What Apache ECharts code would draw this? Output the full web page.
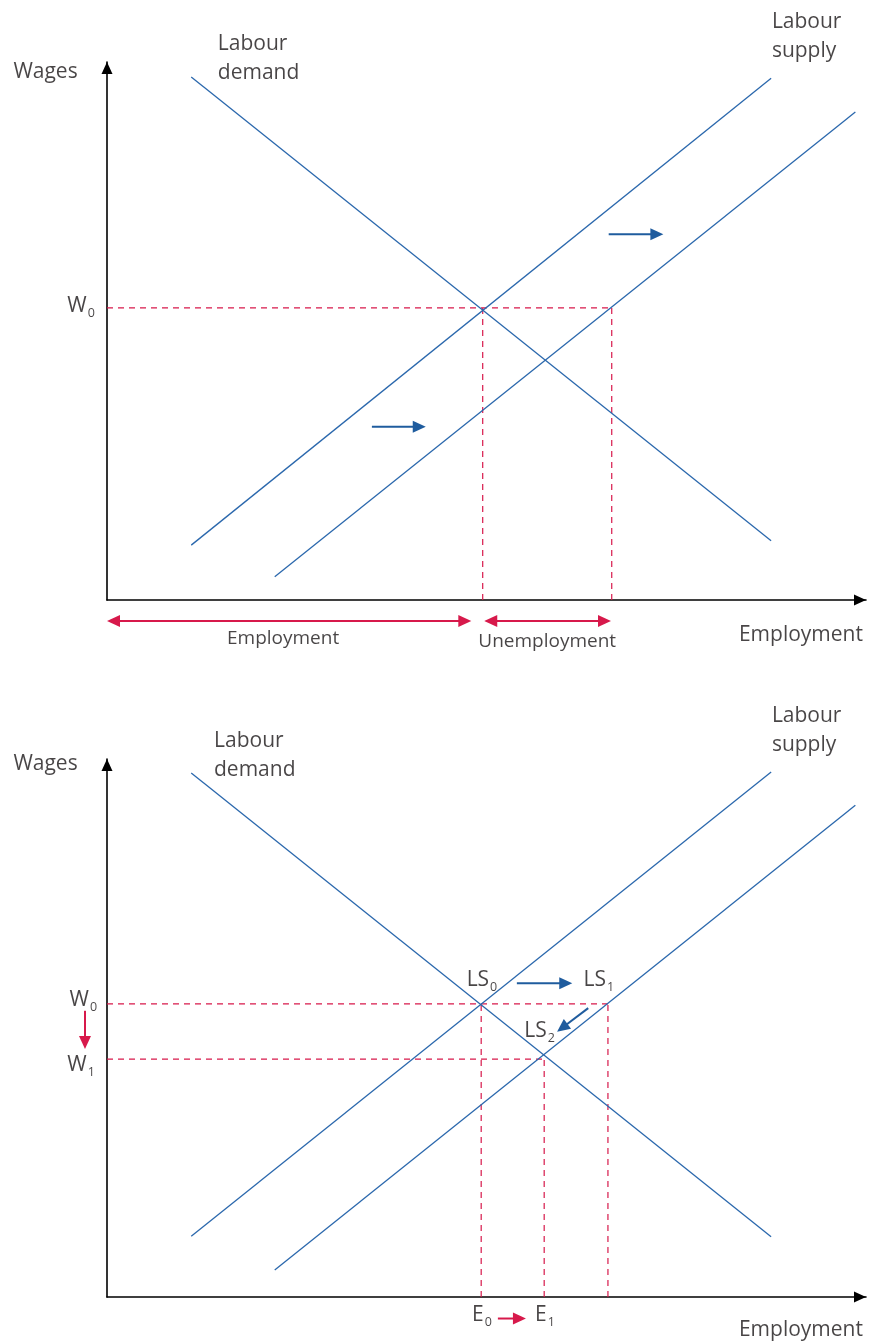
<!DOCTYPE html>
<html>
<head>
<meta charset="UTF-8">
<title>Labour market</title>
<script src="https://cdn.jsdelivr.net/npm/echarts@6/dist/echarts.min.js"></script>
<style>html,body{margin:0;padding:0;background:#fff;}</style>
</head>
<body>
	<div id="main" style="width:873px;height:1342px;"></div>
<script type="text/javascript">
// units: employment 0-100 across, wages 0-100 up (both panels)

// top panel
var demandTop = [[11.1, 97.2], [87.5, 11.0]];
var supplyTop0 = [[11.1, 10.2], [87.5, 97.0]];
var supplyTop1 = [[22.1, 4.3], [98.6, 90.7]];
var wageTop = 54.3;
var empTop = [49.5, 66.5];          // employed, labour force
var shiftTop = [[34.9, 32.2, 42.0, 32.2], [66.1, 68.0, 73.3, 68.0]];
var spanTop = [[0, -3.9, 48.0, -3.9, 1], [49.7, -3.9, 66.4, -3.9, 1]];

// bottom panel
var demandBot = [[11.1, 97.4], [87.5, 11.2]];
var supplyBot0 = [[11.1, 11.3], [87.5, 97.6]];
var supplyBot1 = [[22.1, 5.0], [98.6, 91.4]];
var wagesBot = [54.5, 44.2];        // W0, W1
var empBot = [49.3, 57.6, 66.0];    // E0, E1, LS1
var shiftBot = [[54.0, 58.3, 61.3, 58.3], [63.4, 53.7, 59.3, 49.3]];
var moveBot = [[-2.9, 53.2, -2.9, 46.1], [51.5, -4.0, 55.2, -4.0]];

var font = '"Open Sans", "Noto Sans", sans-serif';
var ink = '#1a1718';
var blue = '#2b68ad';
var red = '#d7194b';

var rich = {
	m: {fontSize: 21, lineHeight: 28, color: ink, fontFamily: font},
	s: {fontSize: 12.5, lineHeight: 12, verticalAlign: 'bottom', color: ink, fontFamily: font, padding: [0, 0, 0, 1]}
};
function sub(a, b) { return '{m|' + a + '}{s|' + b + '}'; }

function note(x, y, text, align, size) {
	return {value: [x, y], label: {formatter: text, align: align || 'center', fontSize: size || 21}};
}

function axisX(g) {
	return {
		type: 'value', gridIndex: g, min: 0, max: 100,
		axisLine: {show: true, onZero: false, symbol: ['none', 'triangle'], symbolSize: [11, 12], symbolOffset: [0, -6],
			lineStyle: {color: '#000', width: 1.6}},
		axisTick: {show: false}, axisLabel: {show: false}, splitLine: {show: false}
	};
}
function axisY(g) {
	return axisX(g);
}

function seg(g, pts, color, dashed) {
	return {
		type: 'line', xAxisIndex: g, yAxisIndex: g, data: pts, symbol: 'none', silent: true, clip: false,
		lineStyle: {color: color, width: dashed ? 1.2 : 1.3, type: dashed ? [6, 5] : 'solid'}
	};
}

// arrow from (v0,v1) to tip (v2,v3); v4 = 1 means a head at both ends
function drawArrow(params, api) {
	var a = api.coord([api.value(0), api.value(1)]);
	var b = api.coord([api.value(2), api.value(3)]);
	var both = api.value(4) === 1;
	var color = api.visual('color');
	var dx = b[0] - a[0], dy = b[1] - a[1];
	var len = Math.sqrt(dx * dx + dy * dy);
	var ux = dx / len, uy = dy / len;
	var hl = 13, hw = 6;
	function head(p, sx, sy) {
		var bx = p[0] - sx * hl, by = p[1] - sy * hl;
		return {type: 'polygon', shape: {points: [[p[0], p[1]], [bx - sy * hw, by + sx * hw], [bx + sy * hw, by - sx * hw]]},
			style: {fill: color}};
	}
	var s = both ? [a[0] + ux * 9, a[1] + uy * 9] : a;
	var kids = [{type: 'line', shape: {x1: s[0], y1: s[1], x2: b[0] - ux * 9, y2: b[1] - uy * 9},
		style: {stroke: color, lineWidth: 2}}];
	kids.push(head(b, ux, uy));
	if (both) kids.push(head(a, -ux, -uy));
	return {type: 'group', children: kids};
}
function arrows(g, data, color) {
	return {type: 'custom', xAxisIndex: g, yAxisIndex: g, renderItem: drawArrow, data: data,
		itemStyle: {color: color}, clip: false, silent: true};
}

function notes(g, data) {
	return {
		type: 'scatter', xAxisIndex: g, yAxisIndex: g, clip: false, silent: true, symbolSize: 1,
		itemStyle: {color: 'transparent'},
		label: {show: true, position: 'inside', verticalAlign: 'middle', color: ink, fontFamily: font,
			fontSize: 21, lineHeight: 29, rich: rich},
		data: data
	};
}

var chart = echarts.init(document.getElementById('main'));
var option = {
	animation: false,
	backgroundColor: '#fff',
	grid: [
		{left: 107, top: 62, width: 759, height: 538},
		{left: 107, top: 759, width: 759, height: 538}
	],
	xAxis: [axisX(0), axisX(1)],
	yAxis: [axisY(0), axisY(1)],
	series: [
		// top
		seg(0, [[0, wageTop], [empTop[1], wageTop]], red, true),
		seg(0, [[empTop[0], 0], [empTop[0], wageTop]], red, true),
		seg(0, [[empTop[1], 0], [empTop[1], wageTop]], red, true),
		seg(0, demandTop, blue),
		seg(0, supplyTop0, blue),
		seg(0, supplyTop1, blue),
		arrows(0, shiftTop, '#1f5c9e'),
		arrows(0, spanTop, red),
		notes(0, [
			note(-8.1, 98.1, 'Wages'),
			note(14.6, 100.7, 'Labour\ndemand', 'left'),
			note(87.6, 104.8, 'Labour\nsupply', 'left'),
			note(-1.6, 54.6, sub('W', '0'), 'right'),
			note(23.2, -7.1, 'Employment', 'center', 19),
			note(58.0, -7.8, 'Unemployment', 'center', 19),
			note(99.6, -6.5, 'Employment', 'right')
		]),
		// bottom
		seg(1, [[0, wagesBot[0]], [empBot[2], wagesBot[0]]], red, true),
		seg(1, [[0, wagesBot[1]], [empBot[1], wagesBot[1]]], red, true),
		seg(1, [[empBot[0], 0], [empBot[0], wagesBot[0]]], red, true),
		seg(1, [[empBot[1], 0], [empBot[1], wagesBot[1]]], red, true),
		seg(1, [[empBot[2], 0], [empBot[2], wagesBot[0]]], red, true),
		seg(1, demandBot, blue),
		seg(1, supplyBot0, blue),
		seg(1, supplyBot1, blue),
		arrows(1, shiftBot, '#1f5c9e'),
		arrows(1, moveBot, red),
		notes(1, [
			note(-8.1, 99.1, 'Wages'),
			note(14.1, 100.7, 'Labour\ndemand', 'left'),
			note(87.6, 105.3, 'Labour\nsupply', 'left'),
			note(-1.3, 55.2, sub('W', '0'), 'right'),
			note(-1.6, 43.1, sub('W', '1'), 'right'),
			note(49.4, 58.9, sub('LS', '0')),
			note(64.8, 58.9, sub('LS', '1')),
			note(57.0, 49.4, sub('LS', '2')),
			note(49.4, -3.4, sub('E', '0')),
			note(57.7, -3.4, sub('E', '1')),
			note(99.6, -6.1, 'Employment', 'right')
		])
	]
};
chart.setOption(option);
</script>
</body>
</html>
